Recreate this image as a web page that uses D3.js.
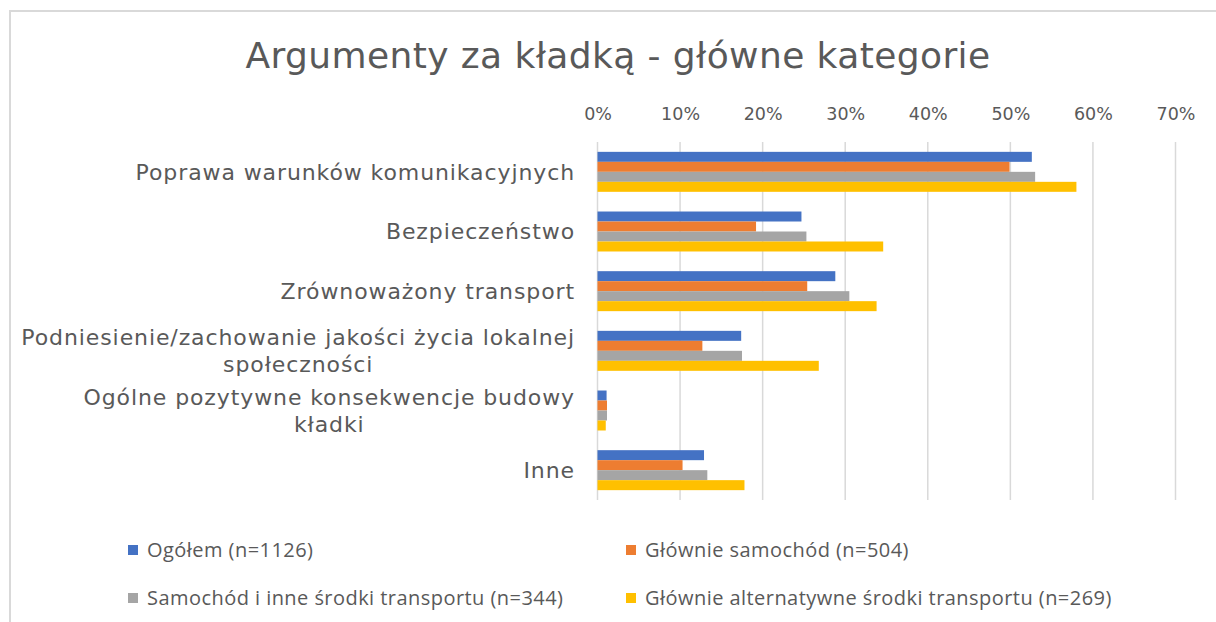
<!DOCTYPE html>
<html>
<head>
<meta charset="utf-8">
<script src="https://cdn.jsdelivr.net/npm/d3@7"></script>
<style>
  html, body { margin: 0; padding: 0; background: #fff; }
  svg { display: block; }
</style>
</head>
<body>
<svg id="chart" width="1216" height="622"></svg>
<script>
// categories (top to bottom), each label split into its displayed lines
const categories = [
    ['Poprawa warunków komunikacyjnych'],
    ['Bezpieczeństwo'],
    ['Zrównoważony transport'],
    ['Podniesienie/zachowanie jakości życia lokalnej', 'społeczności'],
    ['Ogólne pozytywne konsekwencje budowy', 'kładki'],
    ['Inne']
];

const seriesNames = [
    'Ogółem (n=1126)',
    'Głównie samochód (n=504)',
    'Samochód i inne środki transportu (n=344)',
    'Głównie alternatywne środki transportu (n=269)'
];

// values in %, same order as categories
const ogolem = [52.6, 24.7, 28.8, 17.4, 1.1, 12.9];
const glownieSamochod = [49.9, 19.2, 25.4, 12.7, 1.15, 10.3];
const samochodInne = [53.0, 25.3, 30.5, 17.5, 1.15, 13.3];
const alternatywne = [58.0, 34.6, 33.8, 26.8, 1.0, 17.8];

const xTicks = [0, 10, 20, 30, 40, 50, 60, 70];

const seriesValues = [ogolem, glownieSamochod, samochodInne, alternatywne];
const seriesColors = ['#4472C4', '#ED7D31', '#A5A5A5', '#FFC000'];

// Layout
const svg = d3.select('svg#chart');
const plotLeft = 597.5,
    plotRight = 1175.5,
    plotTop = 142,
    plotBottom = 500,
    textColor = '#595959',
    gridColor = '#D9D9D9',
    mainFont = '"DejaVu Sans", sans-serif',
    legendFont = '"Open Sans", "Liberation Sans", sans-serif';

const x = d3.scaleLinear().domain([0, 70]).range([plotLeft, plotRight]);
const y = d3.scaleBand()
    .domain(d3.range(categories.length))
    .range([plotTop, plotBottom])
    .paddingInner(0.33)
    .paddingOuter(0.165);
const ySeries = d3.scaleBand()
    .domain(d3.range(seriesNames.length))
    .range([0, y.bandwidth()]);

// chart border (only top and left are inside the picture)
svg.append('path')
    .attr('d', 'M10,622 V11 H1216')
    .attr('fill', 'none')
    .attr('stroke', gridColor)
    .attr('stroke-width', 2);

// title
svg.append('text')
    .text('Argumenty za kładką - główne kategorie')
    .attr('x', 618)
    .attr('y', 68)
    .attr('text-anchor', 'middle')
    .attr('font-family', mainFont)
    .attr('font-size', 36)
    .attr('letter-spacing', 0.4)
    .attr('fill', textColor);

// gridlines
svg.append('g')
    .selectAll('line')
    .data(xTicks)
    .join('line')
    .attr('x1', d => x(d))
    .attr('x2', d => x(d))
    .attr('y1', plotTop)
    .attr('y2', plotBottom)
    .attr('stroke', gridColor)
    .attr('stroke-width', 1.5);

// top axis labels
const axis = svg.append('g')
    .attr('transform', 'translate(0, 120)')
    .call(d3.axisTop(x).tickValues(xTicks).tickSize(0).tickPadding(0).tickFormat(d => d + '%'));
axis.select('.domain').remove();
axis.selectAll('text')
    .attr('font-family', mainFont)
    .attr('font-size', 17.5)
    .attr('fill', textColor);

// bars
seriesValues.forEach((values, s) => {
    svg.append('g')
        .selectAll('rect')
        .data(values)
        .join('rect')
        .attr('x', x(0))
        .attr('y', (d, i) => y(i) + ySeries(s))
        .attr('width', d => x(d) - x(0))
        .attr('height', ySeries.bandwidth())
        .attr('fill', seriesColors[s]);
});

// category labels
const lineHeight = 27,
    labelRight = 575;
categories.forEach((lines, i) => {
    const cy = y(i) + y.bandwidth() / 2;
    const top = cy - (lines.length - 1) * lineHeight / 2;
    const g = svg.append('g')
        .attr('font-family', mainFont)
        .attr('font-size', 22)
        .attr('letter-spacing', 0.9)
        .attr('fill', textColor);
    const first = g.append('text')
        .text(lines[0])
        .attr('x', labelRight)
        .attr('y', top)
        .attr('dy', '0.35em')
        .attr('text-anchor', 'end');
    if (lines.length > 1) {
        const w = first.node().getComputedTextLength();
        lines.slice(1).forEach((line, k) => {
            g.append('text')
                .text(line)
                .attr('x', labelRight - w / 2)
                .attr('y', top + (k + 1) * lineHeight)
                .attr('dy', '0.35em')
                .attr('text-anchor', 'middle');
        });
    }
});

// legend, 2 columns
const legendCols = [128, 626],
    legendRows = [550, 598],
    legendSquare = 10;
seriesNames.forEach((name, s) => {
    const lx = legendCols[s % 2],
        ly = legendRows[Math.floor(s / 2)];
    svg.append('rect')
        .attr('x', lx)
        .attr('y', ly - legendSquare / 2)
        .attr('width', legendSquare)
        .attr('height', legendSquare)
        .attr('fill', seriesColors[s]);
    svg.append('text')
        .text(name)
        .attr('x', lx + 19)
        .attr('y', ly)
        .attr('dy', '0.35em')
        .attr('font-family', legendFont)
        .attr('font-size', 20)
        .attr('letter-spacing', 0.45)
        .attr('fill', textColor);
});
</script>
</body>
</html>
